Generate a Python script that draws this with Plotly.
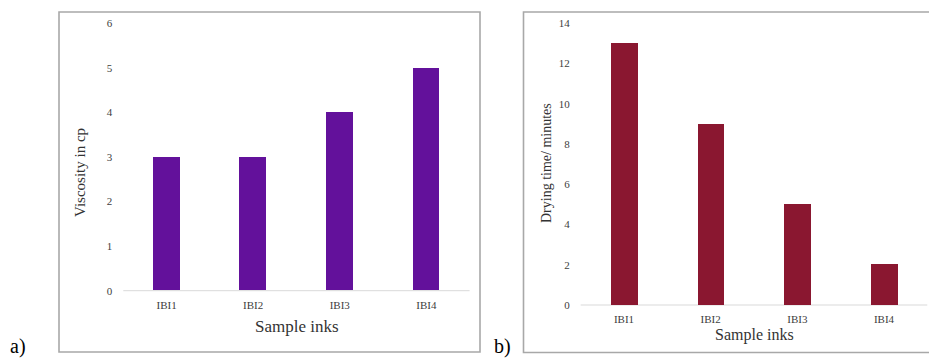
import plotly.graph_objects as go

W, H = 929, 359

inks = ["IBI1", "IBI2", "IBI3", "IBI4"]
viscosity = [3, 3, 4, 5]
drying_time = [13, 9, 5, 2]
visc_ticks = [0, 1, 2, 3, 4, 5, 6]
dry_ticks = [0, 2, 4, 6, 8, 10, 12, 14]

PURPLE = "#63119B"
RED = "#8A1730"
FONT = "Liberation Serif, Times New Roman, serif"

def px(x):
    return x / W

def py(y):
    return 1 - y / H

fig = go.Figure()
fig.add_trace(go.Bar(x=inks, y=viscosity, marker=dict(color=PURPLE, line=dict(width=0)),
                     width=0.31, xaxis="x", yaxis="y", showlegend=False))
fig.add_trace(go.Bar(x=inks, y=drying_time, marker=dict(color=RED, line=dict(width=0)),
                     width=0.31, xaxis="x2", yaxis="y2", showlegend=False))

tickfont = dict(family=FONT, size=11, color="#404040")
common_x = dict(showgrid=False, zeroline=False, showline=False, ticks="", automargin=False,
                tickfont=tickfont, ticklabelstandoff=6, fixedrange=True)
common_y = dict(showgrid=False, zeroline=False, showline=False, ticks="", automargin=False,
                tickfont=tickfont, ticklabelstandoff=10, fixedrange=True)

fig.update_layout(
    width=W, height=H,
    margin=dict(l=0, r=0, t=0, b=0, pad=0, autoexpand=False),
    paper_bgcolor="white", plot_bgcolor="white",
    bargap=0,
    xaxis=dict(domain=[px(123.3), px(469.6)], anchor="y", **common_x),
    yaxis=dict(domain=[py(290.7), py(23.3)], range=[0, 6], tickvals=visc_ticks, anchor="x", **common_y),
    xaxis2=dict(domain=[px(580.7), px(927.3)], anchor="y2", **common_x),
    yaxis2=dict(domain=[py(305), py(23.3)], range=[0, 14], tickvals=dry_ticks, anchor="x2", **common_y),
    shapes=[
        dict(type="rect", xref="paper", yref="paper", x0=px(59), x1=px(480), y0=py(352), y1=py(12),
             line=dict(color="#A8A8A8", width=1.6), layer="below"),
        dict(type="rect", xref="paper", yref="paper", x0=px(523.5), x1=px(940), y0=py(352.5), y1=py(12),
             line=dict(color="#A8A8A8", width=1.6), layer="below"),
        dict(type="line", xref="paper", yref="paper", x0=px(123.3), x1=px(469.6), y0=py(290.7), y1=py(290.7),
             line=dict(color="#D9D9D9", width=1), layer="below"),
        dict(type="line", xref="paper", yref="paper", x0=px(580.7), x1=px(927.3), y0=py(305), y1=py(305),
             line=dict(color="#D9D9D9", width=1), layer="below"),
    ],
    annotations=[
        dict(text="Viscosity in cp", x=px(80), y=py(173), xref="paper", yref="paper", textangle=-90,
             showarrow=False, xanchor="center", yanchor="middle", font=dict(family=FONT, size=15, color="#333333")),
        dict(text="Sample inks", x=px(297), y=py(326), xref="paper", yref="paper",
             showarrow=False, xanchor="center", yanchor="middle", font=dict(family=FONT, size=17, color="#333333")),
        dict(text="Drying time/ minutes", x=px(546), y=py(163), xref="paper", yref="paper", textangle=-90,
             showarrow=False, xanchor="center", yanchor="middle", font=dict(family=FONT, size=14, color="#333333")),
        dict(text="Sample inks", x=px(754), y=py(335), xref="paper", yref="paper",
             showarrow=False, xanchor="center", yanchor="middle", font=dict(family=FONT, size=16, color="#333333")),
        dict(text="a)", x=px(18), y=py(346), xref="paper", yref="paper",
             showarrow=False, xanchor="center", yanchor="middle", font=dict(family=FONT, size=20, color="black")),
        dict(text="b)", x=px(502), y=py(346), xref="paper", yref="paper",
             showarrow=False, xanchor="center", yanchor="middle", font=dict(family=FONT, size=20, color="black")),
    ],
)

fig.write_html("out.html")
